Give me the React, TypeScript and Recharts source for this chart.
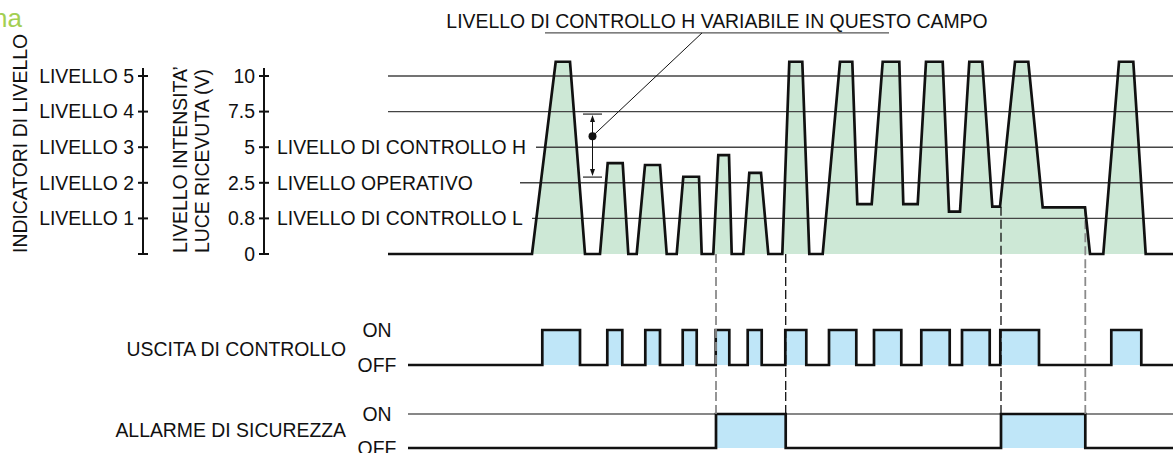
import React from "react";
import {
  ComposedChart,
  Area,
  Line,
  XAxis,
  YAxis,
  ReferenceLine,
  ReferenceDot,
} from "recharts";

const FONT = "'Liberation Sans', Arial, Helvetica, sans-serif";
const INK = "#111";
const GRID = "#444";
const GREEN = "#cde8d6";
const BLUE = "#bfe6f8";
const GREY_DASH = "#8a8a8a";

// the volt levels are drawn equally spaced: level index 0..5
const levelIdx = [0, 1, 2, 3, 4, 5];
const voltTicks = ["0", "0.8", "2.5", "5", "7.5", "10"];
const levelNames = ["", "LIVELLO 1", "LIVELLO 2", "LIVELLO 3", "LIVELLO 4", "LIVELLO 5"];
const levelNotes = ["", "LIVELLO DI CONTROLLO L", "LIVELLO OPERATIVO", "LIVELLO DI CONTROLLO H", "", ""];
const switchLabels = ["OFF", "ON"];

// received light: time (arbitrary units) and level index
const lightTime = [
  0, 144, 167.7, 182, 197, 212, 219.7, 234.7, 240.3, 248.7, 257, 272, 278.7, 288.7,
  295.3, 311, 313.7, 325.3, 330.3, 341, 343.7, 355.3, 361.3, 373, 380.3, 394.3,
  401.3, 414.3, 421.3, 434.7, 452, 464.3, 469.3, 483.7, 494.7, 511.3, 515.3, 529.7,
  538, 554.7, 561, 572, 581.3, 594.3, 604.3, 612, 627, 640.3, 654.7, 697, 702, 715.3,
  731, 745.3, 757.7, 785,
];
const lightLevel = [
  0, 0, 5.4, 5.4, 0, 0, 2.55, 2.55, 0, 0, 2.5, 2.5, 0, 0,
  2.17, 2.17, 0, 0, 2.78, 2.78, 0, 0, 2.28, 2.28, 0, 0,
  5.4, 5.4, 0, 0, 5.4, 5.4, 1.4, 1.4, 5.4, 5.4, 1.4, 1.4,
  5.4, 5.4, 1.19, 1.19, 5.4, 5.4, 1.33, 1.33, 5.4, 5.4, 1.31, 1.31, 0, 0,
  5.4, 5.4, 0, 0,
];

// control output pulses
const ctrlOn = [154.3, 219.3, 257.3, 294.7, 327.7, 359.7, 397.3, 441, 486, 533.3, 574, 612.3, 723.3];
const ctrlOff = [192, 234.3, 272, 308.7, 341.3, 373.7, 418.3, 468.3, 513.3, 561.7, 601.7, 651, 753.3];

// safety alarm
const alarmOn = [328, 613];
const alarmOff = [397.7, 697.3];

const T_START = 20;
const T_END = 785;

// where the dashed markers leave the light curve (level index)
const dashTop = [0, 0, 1.33, 1.31];
const dashInk = [GREY_DASH, INK, INK, GREY_DASH];

// horizontal level lines: start time for each level (index 1..5)
const gridFrom = [0, 144, 132, 148, 0, 0];

const noteText = "LIVELLO DI CONTROLLO H VARIABILE IN QUESTO CAMPO";

const toSteps = (on: number[], off: number[]) => {
  const pts = [{ t: T_START, v: 0 }];
  on.forEach((t, i) => {
    pts.push({ t, v: 1 });
    pts.push({ t: off[i], v: 0 });
  });
  pts.push({ t: T_END, v: 0 });
  return pts;
};

const lightData = lightTime.map((t, i) => ({ t, v: lightLevel[i] }));
const ctrlData = toSteps(ctrlOn, ctrlOff);
const alarmData = toSteps(alarmOn, alarmOff);
const dashTimes = alarmOn.flatMap((t, i) => [t, alarmOff[i]]);
const levelData = levelIdx.map((i) => ({ i }));

const PX = 35.6; // pixels per level step
const H_TOP = 270;
const BASE_Y = 254;
const topDomain: [number, number] = [-(H_TOP - BASE_Y) / PX, BASE_Y / PX];
const axisDomain: [number, number] = [0, (BASE_Y - 68) / PX];
const ctrlDomain: [number, number] = [-25 / 35, 95 / 35];
const alarmDomain: [number, number] = [-5 / 34, 58 / 34];

const textStyle = { fontSize: 19.4, fill: INK, fontFamily: FONT };

const crossTick = (names: string[], notes?: string[]) => (p: any) => {
  const { x, y, payload } = p;
  const i = payload.value;
  return (
    <g>
      <line x1={x - 5} x2={x + 5} y1={y} y2={y} stroke={INK} strokeWidth={2} />
      {names[i] ? (
        <text x={x - 9} y={y} dy="0.35em" textAnchor="end" {...textStyle}>
          {names[i]}
        </text>
      ) : null}
      {notes && notes[i] ? (
        <text x={x + 13} y={y} dy="0.35em" textAnchor="start" {...textStyle}>
          {notes[i]}
        </text>
      ) : null}
    </g>
  );
};

const onOffTick = (p: any) => (
  <text x={p.x - 11} y={p.y} dy="0.35em" textAnchor="middle" {...textStyle}>
    {switchLabels[p.payload.value]}
  </text>
);

const sideLabel = (text: string, y: number) => () => (
  <text x={346} y={y} dy="0.35em" textAnchor="end" {...textStyle}>
    {text}
  </text>
);

const bracketShape = (p: any) => {
  const x = p.x1;
  const top = Math.min(p.y1, p.y2);
  const bot = Math.max(p.y1, p.y2);
  return (
    <g>
      <line x1={x} x2={x} y1={top + 3} y2={bot - 3} stroke={INK} strokeWidth={1} />
      <path d={`M${x},${top + 1} l-2.5,7 h5 z`} fill={INK} />
      <path d={`M${x},${bot - 1} l-2.5,-7 h5 z`} fill={INK} />
    </g>
  );
};

const dashedLine = (t: number, i: number, y0?: number, y1?: number) => {
  const common = {
    key: `d${i}`,
    stroke: dashInk[i],
    strokeWidth: dashInk[i] === INK ? 1.3 : 1.8,
    strokeDasharray: "9 4",
  };
  if (y0 === undefined || y1 === undefined) return <ReferenceLine x={t} {...common} />;
  return (
    <ReferenceLine
      segment={[
        { x: t, y: y0 },
        { x: t, y: y1 },
      ]}
      {...common}
    />
  );
};

const levelAxisProps = {
  type: "number" as const,
  domain: axisDomain,
  ticks: levelIdx,
  interval: 0 as const,
  allowDataOverflow: true,
  tickSize: 0,
  tickMargin: 0,
  tickLine: false,
  axisLine: { stroke: INK, strokeWidth: 2 },
};

export default function App() {
  return (
    <div
      style={{
        position: "absolute",
        left: 0,
        top: 0,
        width: 1173,
        height: 453,
        overflow: "hidden",
        background: "#fff",
        fontFamily: FONT,
      }}
    >
      <div
        style={{
          position: "absolute",
          left: -7,
          top: 5,
          fontSize: 26,
          lineHeight: "26px",
          color: "#a3cf52",
          whiteSpace: "nowrap",
        }}
      >
        na
      </div>

      {/* level indicator scale */}
      <div style={{ position: "absolute", left: 0, top: 0 }}>
        <ComposedChart width={160} height={H_TOP} data={levelData} margin={{ top: 68, right: 0, bottom: 16, left: 0 }}>
          <XAxis dataKey="i" hide />
          <YAxis
            {...levelAxisProps}
            width={143}
            tick={crossTick(levelNames)}
            label={() => (
              <text x={27} y={253} transform="rotate(-90 27 253)" textAnchor="start" {...textStyle}>
                INDICATORI DI LIVELLO
              </text>
            )}
          />
          <Line dataKey="i" stroke="none" dot={false} isAnimationActive={false} />
        </ComposedChart>
      </div>

      {/* received light scale */}
      <div style={{ position: "absolute", left: 143, top: 0 }}>
        <ComposedChart width={420} height={H_TOP} data={levelData} margin={{ top: 68, right: 0, bottom: 16, left: 0 }}>
          <XAxis dataKey="i" hide />
          <YAxis
            {...levelAxisProps}
            width={121}
            tick={crossTick(voltTicks, levelNotes)}
            label={() => (
              <g>
                <text x={44} y={253} transform="rotate(-90 44 253)" textAnchor="start" {...textStyle}>
                  LIVELLO INTENSITA’
                </text>
                <text x={66} y={253} transform="rotate(-90 66 253)" textAnchor="start" {...textStyle}>
                  LUCE RICEVUTA (V)
                </text>
              </g>
            )}
          />
          <Line dataKey="i" stroke="none" dot={false} isAnimationActive={false} />
        </ComposedChart>
      </div>

      {/* received light */}
      <div style={{ position: "absolute", left: 0, top: 0 }}>
        <ComposedChart width={1173} height={H_TOP} data={lightData} margin={{ top: 0, right: 0, bottom: 0, left: 388 }}>
          <XAxis dataKey="t" type="number" domain={[0, T_END]} hide allowDataOverflow />
          <YAxis type="number" domain={topDomain} hide allowDataOverflow />
          <Area
            dataKey="v"
            type="linear"
            fill={GREEN}
            fillOpacity={1}
            stroke="none"
            baseValue={0}
            isAnimationActive={false}
          />
          {levelIdx.slice(1).map((lv) => (
            <ReferenceLine
              key={`g${lv}`}
              segment={[
                { x: gridFrom[lv], y: lv },
                { x: T_END, y: lv },
              ]}
              stroke={GRID}
              strokeWidth={1.4}
            />
          ))}
          {dashTimes.map((t, i) => dashedLine(t, i, dashTop[i], topDomain[0]))}
          <ReferenceLine
            segment={[
              { x: 157, y: 6.21 },
              { x: 501, y: 6.21 },
            ]}
            stroke="#555"
            strokeWidth={1.4}
            label={{ value: noteText, position: "top", offset: 5, ...textStyle }}
          />
          <ReferenceLine
            segment={[
              { x: 204.5, y: 3.31 },
              { x: 314, y: 6.21 },
            ]}
            stroke={INK}
            strokeWidth={1}
          />
          <ReferenceLine
            segment={[
              { x: 195, y: 3.93 },
              { x: 214, y: 3.93 },
            ]}
            stroke={GRID}
            strokeWidth={1.4}
          />
          <ReferenceLine
            segment={[
              { x: 195, y: 2.16 },
              { x: 214, y: 2.16 },
            ]}
            stroke={GRID}
            strokeWidth={1.4}
          />
          <ReferenceLine
            segment={[
              { x: 204.5, y: 3.93 },
              { x: 204.5, y: 2.16 },
            ]}
            shape={bracketShape}
          />
          <ReferenceDot x={204.5} y={3.31} r={4} fill={INK} stroke="none" />
          <Line
            dataKey="v"
            type="linear"
            stroke={INK}
            strokeWidth={2.7}
            strokeLinejoin="miter"
            dot={false}
            activeDot={false}
            isAnimationActive={false}
          />
        </ComposedChart>
      </div>

      {/* control output */}
      <div style={{ position: "absolute", left: 0, top: 270 }}>
        <ComposedChart width={1173} height={120} data={ctrlData} margin={{ top: 0, right: 0, bottom: 0, left: 0 }}>
          <XAxis dataKey="t" type="number" domain={[0, T_END]} hide allowDataOverflow />
          <YAxis
            width={388}
            type="number"
            domain={ctrlDomain}
            ticks={[0, 1]}
            interval={0}
            allowDataOverflow
            tickSize={0}
            tickMargin={0}
            tickLine={false}
            axisLine={false}
            tick={onOffTick}
            label={sideLabel("USCITA DI CONTROLLO", 79)}
          />
          {dashTimes.map((t, i) => dashedLine(t, i))}
          <Area
            dataKey="v"
            type="stepAfter"
            fill={BLUE}
            fillOpacity={1}
            stroke={INK}
            strokeWidth={2.7}
            baseValue={0}
            isAnimationActive={false}
          />
        </ComposedChart>
      </div>

      {/* safety alarm */}
      <div style={{ position: "absolute", left: 0, top: 390 }}>
        <ComposedChart width={1173} height={63} data={alarmData} margin={{ top: 0, right: 0, bottom: 0, left: 0 }}>
          <XAxis dataKey="t" type="number" domain={[0, T_END]} hide allowDataOverflow />
          <YAxis
            width={388}
            type="number"
            domain={alarmDomain}
            ticks={[0, 1]}
            interval={0}
            allowDataOverflow
            tickSize={0}
            tickMargin={0}
            tickLine={false}
            axisLine={false}
            tick={onOffTick}
            label={sideLabel("ALLARME DI SICUREZZA", 40)}
          />
          <ReferenceLine
            segment={[
              { x: T_START, y: 1 },
              { x: T_END, y: 1 },
            ]}
            stroke={INK}
            strokeWidth={1.2}
          />
          {dashTimes.map((t, i) => dashedLine(t, i, 1, alarmDomain[1]))}
          <Area
            dataKey="v"
            type="stepAfter"
            fill={BLUE}
            fillOpacity={1}
            stroke={INK}
            strokeWidth={2.7}
            baseValue={0}
            isAnimationActive={false}
          />
        </ComposedChart>
      </div>
    </div>
  );
}
